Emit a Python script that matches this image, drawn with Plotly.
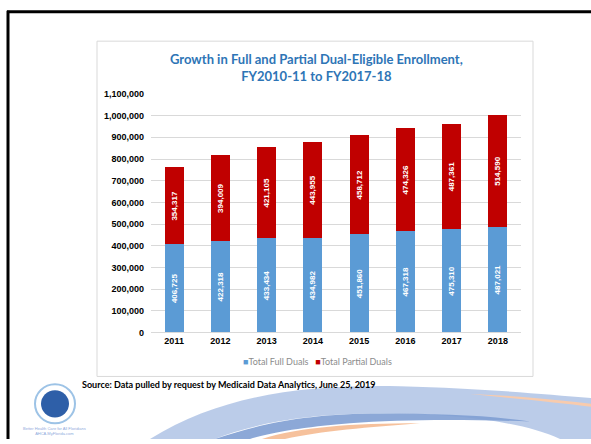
import plotly.graph_objects as go

years = ['2011', '2012', '2013', '2014', '2015', '2016', '2017', '2018']
full_duals = [406725, 422318, 433434, 434982, 451860, 467318, 475310, 487021]
partial_duals = [354317, 394009, 421105, 443955, 458712, 474326, 487361, 514590]
y_ticks = list(range(0, 1100001, 100000))

W, H = 591, 444
BLUE, RED = '#5B9BD5', '#C00000'


def px(x):
    return x / W


def py(y):
    return 1 - y / H


label_font = dict(family='Liberation Sans', size=8, color='white', weight='bold')

fig = go.Figure()
fig.add_trace(go.Bar(
    x=years, y=full_duals, name='Total Full Duals',
    marker_color=BLUE, marker_line_width=0,
    text=[f'{v:,}' for v in full_duals], textposition='inside',
    textangle=-90, insidetextanchor='middle', textfont=label_font,
))
fig.add_trace(go.Bar(
    x=years, y=partial_duals, name='Total Partial Duals',
    marker_color=RED, marker_line_width=0,
    text=[f'{v:,}' for v in partial_duals], textposition='inside',
    textangle=-90, insidetextanchor='middle', textfont=label_font,
))

shapes = [
    # chart frame
    dict(type='rect', xref='paper', yref='paper', x0=px(97), x1=px(533), y0=py(380), y1=py(37),
         line=dict(color='#D9D9D9', width=1), fillcolor='rgba(0,0,0,0)', layer='below'),
    # slide border
    dict(type='line', xref='paper', yref='paper', x0=px(7), x1=1, y0=py(7), y1=py(7),
         line=dict(color='black', width=3)),
    dict(type='line', xref='paper', yref='paper', x0=px(8), x1=px(8), y0=py(6), y1=0,
         line=dict(color='black', width=3)),
    # swoosh bands
    dict(type='path', xref='paper', yref='paper', layer='below',
         path=f'M {px(150)},{py(444)} C {px(220)},{py(400)} {px(300)},{py(388)} {px(400)},{py(390)} '
              f'C {px(480)},{py(392)} {px(540)},{py(398)} {px(591)},{py(402)} L {px(591)},{py(444)} '
              f'L {px(560)},{py(444)} C {px(520)},{py(425)} {px(450)},{py(418)} {px(380)},{py(418)} '
              f'C {px(300)},{py(418)} {px(250)},{py(430)} {px(215)},{py(444)} Z',
         fillcolor='#B4C7E7', line_width=0, opacity=0.9),
    dict(type='path', xref='paper', yref='paper', layer='below',
         path=f'M {px(215)},{py(444)} C {px(260)},{py(428)} {px(310)},{py(418)} {px(380)},{py(418)} '
              f'C {px(440)},{py(418)} {px(490)},{py(420)} {px(530)},{py(426)} '
              f'C {px(460)},{py(424)} {px(400)},{py(424)} {px(350)},{py(428)} '
              f'C {px(300)},{py(432)} {px(270)},{py(438)} {px(250)},{py(444)} Z',
         fillcolor='#7F9FD3', line_width=0, opacity=0.9),
    dict(type='path', xref='paper', yref='paper', layer='below',
         path=f'M {px(262)},{py(444)} C {px(300)},{py(432)} {px(350)},{py(428)} {px(420)},{py(428)} '
              f'C {px(370)},{py(432)} {px(320)},{py(436)} {px(285)},{py(444)} Z',
         fillcolor='#F4B183', line_width=0, opacity=0.8),
    dict(type='path', xref='paper', yref='paper', layer='below',
         path=f'M {px(470)},{py(398)} C {px(520)},{py(400)} {px(560)},{py(404)} {px(591)},{py(408)} '
              f'L {px(591)},{py(411)} C {px(560)},{py(407)} {px(520)},{py(403)} {px(470)},{py(398)} Z',
         fillcolor='#F8CBAD', line_width=0),
    # logo
    dict(type='circle', xref='paper', yref='paper', x0=px(35), x1=px(75), y0=py(428), y1=py(388),
         fillcolor='white', line=dict(color='#9DC3E6', width=2)),
    dict(type='circle', xref='paper', yref='paper', x0=px(41), x1=px(69), y0=py(422), y1=py(394),
         fillcolor='#2E5FA8', line_width=0),
]

# Excel-style compact legend
legend_text = (f'<span style="color:{BLUE}">■</span>Total Full Duals'
               f'&nbsp;&nbsp;&nbsp;<span style="color:{RED}">■</span>Total Partial Duals')

annotations = [
    dict(text='Growth in Full and Partial Dual-Eligible Enrollment,<br>FY2010-11 to FY2017-18',
         xref='paper', yref='paper', x=px(316), y=py(64), xanchor='center', yanchor='middle',
         showarrow=False, font=dict(family='Lato', size=13, color='#2E75B6', weight='bold')),
    dict(text=legend_text, xref='paper', yref='paper', x=px(318), y=py(365),
         xanchor='center', yanchor='middle', showarrow=False,
         font=dict(family='Lato', size=9, color='#8C8C8C')),
    dict(text='<b>Source: Data pulled by request by Medicaid Data Analytics, June 25, 2019</b>',
         xref='paper', yref='paper', x=px(80), y=py(388), xanchor='left', yanchor='middle',
         showarrow=False, font=dict(family='Lato', size=9, color='black')),
    dict(text='Better Health Care for All Floridians<br>AHCA.MyFlorida.com',
         xref='paper', yref='paper', x=px(54), y=py(436), xanchor='center', yanchor='middle',
         showarrow=False, font=dict(family='Liberation Sans', size=4, color='#8FAADC')),
]

fig.update_layout(
    width=W, height=H,
    margin=dict(l=0, r=0, t=0, b=0),
    paper_bgcolor='white', plot_bgcolor='white',
    barmode='stack', bargap=0.59,
    showlegend=False,
    xaxis=dict(domain=[px(151), px(521)], showgrid=False, showline=True, linecolor='#D9D9D9',
               tickfont=dict(family='Liberation Sans', size=9, color='black', weight='bold'),
               ticks=''),
    yaxis=dict(domain=[py(335), py(91)], range=[0, 1100000], tickvals=y_ticks,
               tickformat=',d', showgrid=True, gridcolor='#D9D9D9', zeroline=False,
               tickfont=dict(family='Liberation Sans', size=9, color='black', weight='bold'),
               ticks='', ticklabelstandoff=6),
    shapes=shapes,
    annotations=annotations,
    uniformtext=dict(minsize=7, mode='show'),
)

fig.write_html('out.html', config={'displayModeBar': False},
               post_script="document.body.style.margin='0';document.body.style.overflow='hidden';")
